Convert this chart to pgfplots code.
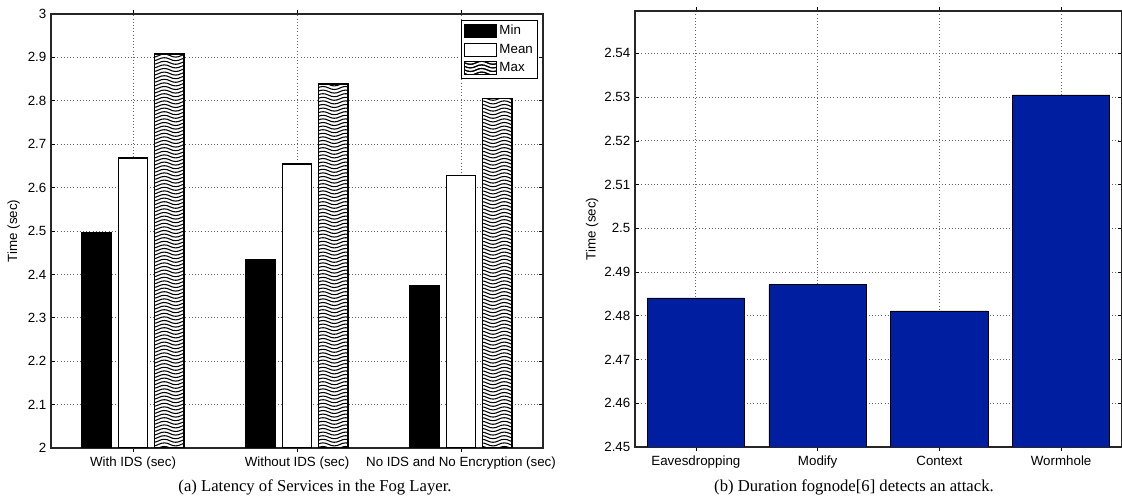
\documentclass[border=0pt]{standalone}
\usepackage{fontspec}
\setmainfont{Liberation Serif}
\newfontfamily\hv{Liberation Sans}
\usepackage{pgfplots}
\pgfplotsset{compat=1.18}
\usetikzlibrary{patterns}

\pgfdeclarepatternformonly{wavy}{\pgfqpoint{-1pt}{-2pt}}{\pgfqpoint{18pt}{2pt}}{\pgfqpoint{17pt}{2.7pt}}{%
  \pgfsetlinewidth{0.8pt}%
  \pgfpathmoveto{\pgfqpoint{0pt}{0pt}}%
  \pgfpathcurveto{\pgfqpoint{2.833pt}{1.5pt}}{\pgfqpoint{5.667pt}{1.5pt}}{\pgfqpoint{8.5pt}{0pt}}%
  \pgfpathcurveto{\pgfqpoint{11.333pt}{-1.5pt}}{\pgfqpoint{14.167pt}{-1.5pt}}{\pgfqpoint{17pt}{0pt}}%
  \pgfusepath{stroke}%
}

\definecolor{barblue}{RGB}{0,30,160}

\pgfplotsset{mystyle/.style={
  scale only axis,
  axis line style={line width=1.1pt, black!85},
  tick align=inside,
  major tick length=3pt,
  tick style={black, line width=0.5pt},
  grid=major,
  major grid style={dotted, black!60, line width=0.6pt},
  ticklabel style={font=\hv\fontsize{10}{11}\selectfont},
  /pgf/number format/assume math mode=true,
}}
\pgfplotsset{boxlegend/.style={legend image code/.code={\draw[##1, line width=0.75pt] (0pt,-4.8pt) rectangle (24pt,4.8pt);}}}
\pgfplotsset{wavylegend/.style={legend image code/.code={\draw[fill=white, draw=black, line width=0.75pt, postaction={pattern=wavy}] (0pt,-4.8pt) rectangle (24pt,4.8pt);}}}

\begin{document}
\begin{tikzpicture}
\useasboundingbox (0,0) rectangle (841.5pt,376.5pt);

\begin{axis}[mystyle,
  at={(38.25pt,40.5pt)}, anchor=south west,
  width=369pt, height=325.5pt,
  xmin=0.5, xmax=3.5, ymin=2, ymax=3,
  xtick={1,2,3},
  xticklabels={With IDS (sec), Without IDS (sec), No IDS and No Encryption (sec)},
  ytick={2,2.1,2.2,2.3,2.4,2.5,2.6,2.7,2.8,2.9,3},
  yticklabels={2,2.1,2.2,2.3,2.4,2.5,2.6,2.7,2.8,2.9,3},
  ybar, bar width=0.18,
  ylabel={Time (sec)},
  every axis y label/.style={at={(axis description cs:-0.076,0.5)}, rotate=90, anchor=center, font=\hv\fontsize{10}{11}\selectfont},
  legend style={at={(1,1)}, anchor=north east, xshift=-3.75pt, yshift=-4.5pt,
    font=\hv\fontsize{10}{11}\selectfont, draw=black, line width=0.75pt,
    inner sep=1.5pt, row sep=1.5pt, cells={anchor=west}},
  legend cell align=left,
]
\addplot[fill=black, draw=black, line width=1.1pt, bar shift=-0.222, boxlegend]
  coordinates {(1,2.495) (2,2.433) (3,2.375)};
\addplot[fill=white, draw=black, line width=1.1pt, bar shift=0, boxlegend]
  coordinates {(1,2.668) (2,2.654) (3,2.628)};
\addplot[fill=white, draw=black, line width=1.1pt, bar shift=0.222, postaction={pattern=wavy}, wavylegend]
  coordinates {(1,2.908) (2,2.839) (3,2.805)};
\legend{Min, Mean, Max}
\end{axis}

\begin{axis}[mystyle,
  at={(476.25pt,41.25pt)}, anchor=south west,
  width=365.25pt, height=327pt,
  xmin=0.5, xmax=4.5, ymin=2.45, ymax=2.5497,
  xtick={1,2,3,4},
  xticklabels={Eavesdropping, Modify, Context, Wormhole},
  ytick={2.45,2.46,2.47,2.48,2.49,2.5,2.51,2.52,2.53,2.54},
  yticklabels={2.45,2.46,2.47,2.48,2.49,2.5,2.51,2.52,2.53,2.54},
  ybar, bar width=0.8,
  ylabel={Time (sec)},
  every axis y label/.style={at={(axis description cs:-0.088,0.5)}, rotate=90, anchor=center, font=\hv\fontsize{10}{11}\selectfont},
]
\addplot[fill=barblue, draw=black, line width=0.5pt, bar shift=0]
  coordinates {(1,2.4841) (2,2.4871) (3,2.4811) (4,2.5305)};
\end{axis}

\node[font=\fontsize{12.5}{14}\selectfont] at (236.25pt,11.25pt) {(a) Latency of Services in the Fog Layer.};
\node[font=\fontsize{12.5}{14}\selectfont] at (640.5pt,11.25pt) {(b) Duration fognode[6] detects an attack.};
\end{tikzpicture}
\end{document}
